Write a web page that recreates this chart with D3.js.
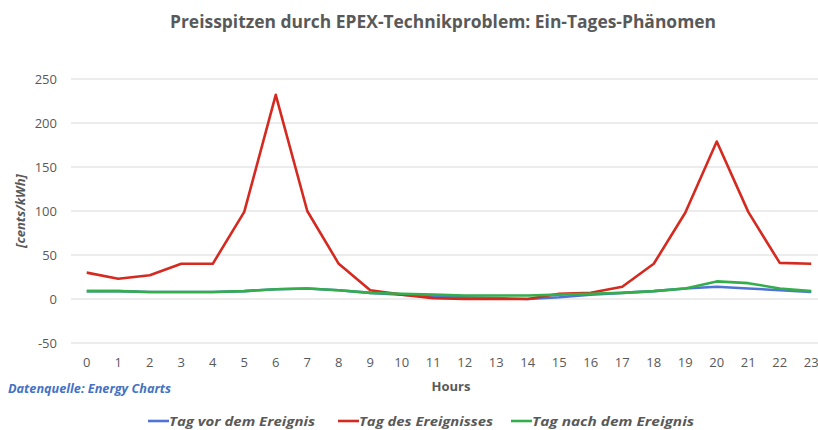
<!DOCTYPE html>
<html>
<head>
<meta charset="utf-8">
<script src="https://cdn.jsdelivr.net/npm/d3@7"></script>
<style>
  body { margin: 0; background: #fff; }
  text { font-family: "Open Sans", sans-serif; }
</style>
</head>
<body>
<div id="chart"></div>
<script>
const WIDTH = 818;
const HEIGHT = 430;

const hours = d3.range(0, 24);
const yTicks = [-50, 0, 50, 100, 150, 200, 250];

const tagVor = [9, 9, 8, 8, 8, 9, 11, 12, 10, 7, 5, 3, 2, 1, 0, 2, 5, 7, 9, 12, 14, 12, 10, 8];
const tagDes = [30, 23, 27, 40, 40, 99, 232, 100, 40, 10, 5, 1, 0, 0, 0, 6, 7, 14, 40, 98, 179, 99, 41, 40];
const tagNach = [9, 9, 8, 8, 8, 9, 11, 12, 10, 7, 6, 5, 4, 4, 4, 5, 6, 7, 9, 12, 20, 18, 12, 9];

const seriesNames = ["Tag vor dem Ereignis", "Tag des Ereignisses", "Tag nach dem Ereignis"];
const seriesColors = ["#4f74d6", "#d42a1f", "#34ad4b"];
const seriesData = [tagVor, tagDes, tagNach];

const svg = d3.select("#chart")
  .append("svg")
  .attr("width", WIDTH)
  .attr("height", HEIGHT);

let xAxis = d3.scalePoint()
  .domain(hours)
  .range([71, 827])
  .padding(0.5);
let yAxis = d3.scaleLinear()
  .domain([-50, 250])
  .range([343, 79]);

// title
svg.append("text")
  .attr("x", 443)
  .attr("y", 28)
  .attr("text-anchor", "middle")
  .attr("font-size", 17)
  .attr("font-weight", "bold")
  .attr("fill", "#595959")
  .attr("textLength", 546)
  .attr("lengthAdjust", "spacingAndGlyphs")
  .text("Preisspitzen durch EPEX-Technikproblem: Ein-Tages-Phänomen");

// gridlines
svg.append("g")
  .selectAll("line")
  .data(yTicks)
  .enter()
  .append("line")
  .attr("x1", 71)
  .attr("x2", WIDTH)
  .attr("y1", d => yAxis(d))
  .attr("y2", d => yAxis(d))
  .attr("stroke", "#d9d9d9")
  .attr("stroke-width", 1);

// y labels
svg.append("g")
  .selectAll("text")
  .data(yTicks)
  .enter()
  .append("text")
  .attr("x", 57)
  .attr("y", d => yAxis(d) + 4.5)
  .attr("text-anchor", "end")
  .attr("font-size", 13)
  .attr("fill", "#595959")
  .text(d => d);

// x labels
svg.append("g")
  .selectAll("text")
  .data(hours)
  .enter()
  .append("text")
  .attr("x", d => xAxis(d))
  .attr("y", 367)
  .attr("text-anchor", "middle")
  .attr("font-size", 13)
  .attr("fill", "#595959")
  .text(d => d);

// axis titles
svg.append("text")
  .attr("transform", "translate(25,211) rotate(-90)")
  .attr("text-anchor", "middle")
  .attr("font-size", 13)
  .attr("font-weight", "bold")
  .attr("font-style", "italic")
  .attr("fill", "#595959")
  .text("[cents/kWh]");

svg.append("text")
  .attr("x", 451)
  .attr("y", 391)
  .attr("text-anchor", "middle")
  .attr("font-size", 13)
  .attr("font-weight", "bold")
  .attr("fill", "#595959")
  .text("Hours");

svg.append("text")
  .attr("x", 8)
  .attr("y", 393)
  .attr("font-size", 12)
  .attr("font-weight", "bold")
  .attr("font-style", "italic")
  .attr("fill", "#4472c4")
  .attr("textLength", 163)
  .attr("lengthAdjust", "spacingAndGlyphs")
  .text("Datenquelle: Energy Charts");

// lines
let line = d3.line()
  .x((v, i) => xAxis(hours[i]))
  .y(v => yAxis(v));

svg.append("g")
  .selectAll("path")
  .data(seriesData)
  .enter()
  .append("path")
  .attr("d", d => line(d))
  .attr("fill", "none")
  .attr("stroke", (d, i) => seriesColors[i])
  .attr("stroke-width", 2.6)
  .attr("stroke-linejoin", "round");

// legend
const legendX = [148, 338, 511];
const legendLen = [146, 134, 162];
let legend = svg.append("g")
  .selectAll("g")
  .data(seriesNames)
  .enter()
  .append("g")
  .attr("transform", (d, i) => `translate(${legendX[i]},421)`);
legend.append("line")
  .attr("x1", 0)
  .attr("x2", 21)
  .attr("y1", 0)
  .attr("y2", 0)
  .attr("stroke", (d, i) => seriesColors[i])
  .attr("stroke-width", 2.6);
legend.append("text")
  .attr("x", 21)
  .attr("y", 5)
  .attr("font-size", 12)
  .attr("font-weight", "bold")
  .attr("font-style", "italic")
  .attr("fill", "#595959")
  .attr("textLength", (d, i) => legendLen[i])
  .attr("lengthAdjust", "spacingAndGlyphs")
  .text(d => d);
</script>
</body>
</html>
